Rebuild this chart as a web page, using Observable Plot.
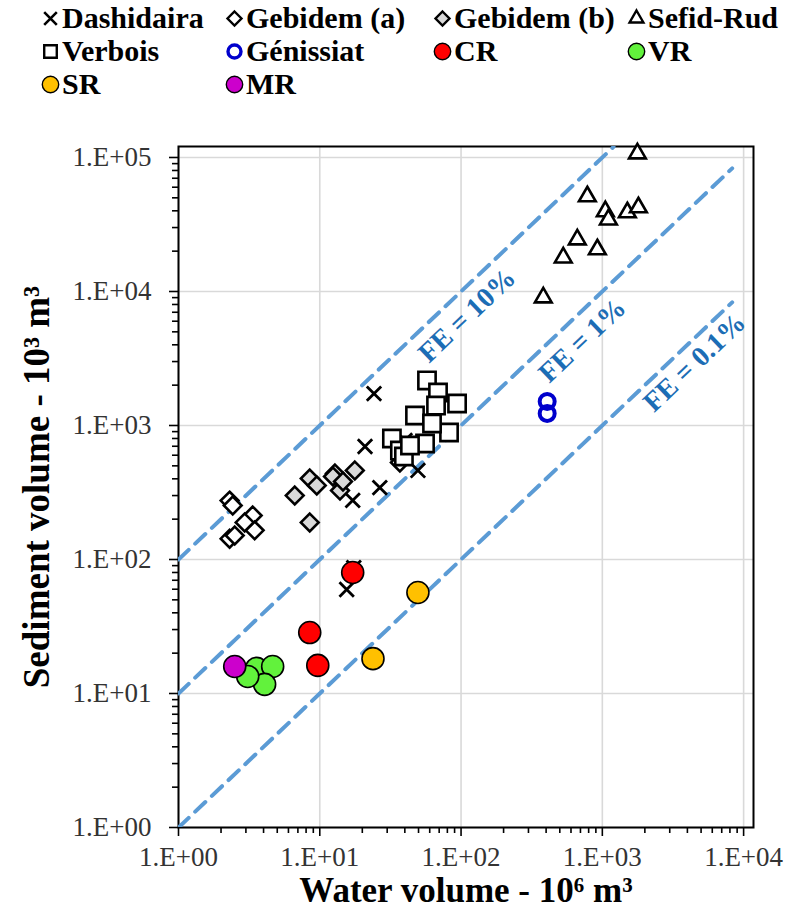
<!DOCTYPE html>
<html><head><meta charset="utf-8">
<script src="https://cdn.jsdelivr.net/npm/d3@7"></script>
<script src="https://cdn.jsdelivr.net/npm/@observablehq/plot@0.6"></script>
<style>
body{margin:0;background:#fff;width:786px;height:924px;overflow:hidden;font-family:"Liberation Serif","Times New Roman",serif;}
#legend{position:relative;height:140px;}
.item{position:absolute;display:flex;align-items:center;font-weight:bold;font-size:30px;line-height:1;color:#000;white-space:nowrap;transform:translateY(-50%);}
.item svg{margin-right:1px;}
</style></head><body>
<div id="legend"></div><div id="chart"></div>
<script>
// ---- data (water volume 10^6 m3, sediment volume 10^3 m3) ----
const seriesNames = ["Dashidaira","Gebidem (a)","Gebidem (b)","Sefid-Rud","Verbois","Génissiat","CR","VR","SR","MR"];
const dashidairaX = [24.2, 20.9, 26.6, 17.1, 49.5, 15.5, 40.1, 17.4];
const dashidairaY = [1730, 697, 344, 276, 462, 59.7, 773, 87];
const gebidemAX = [2.30, 2.42, 3.35, 3.46, 2.94, 2.30, 2.50, 36.9];
const gebidemAY = [275, 253, 213, 165, 189, 143, 151, 530];
const gebidemBX = [6.65, 8.49, 9.52, 8.49, 12.8, 12.4, 13.9, 14.6, 17.7];
const gebidemBY = [300, 402, 357, 189, 438, 416, 327, 382, 462];
const sefidRudX = [1771, 783, 1050, 1104, 1503, 1800, 665, 529, 922, 382];
const sefidRudY = [107000, 51200, 39600, 34400, 38900, 42400, 24400, 17900, 20600, 9020];
const verboisX = [57.4, 68.7, 93.7, 66.5, 47.2, 82.2, 62.3, 55.6, 32.4, 36.9, 39.4, 43.5];
const verboisY = [2168, 1763, 1459, 1409, 1188, 887, 1035, 734, 800, 650, 587, 709];
const genissiatX = [407, 407];
const genissiatY = [1511, 1230];
const crX = [17.1, 8.49, 9.68];
const crY = [80, 28.5, 16.2];
const vrX = [3.57, 4.64, 4.07, 3.09];
const vrY = [15.4, 15.9, 11.7, 13.4];
const srX = [23.8, 49.5];
const srY = [18.2, 56.7];
const mrX = [2.50];
const mrY = [15.9];

// flushing-efficiency guide lines: sediment = factor * water
const feLabels = ["FE = 10%", "FE = 1%", "FE = 0.1%"];
const feFactor = [100, 10, 1];
const feLineEndX = [1200, 8300, 8300];
const feLabelX = [110, 721, 4490];
const feLabelY = [6620, 4310, 2950];

const xTickLabels = ["1.E+00","1.E+01","1.E+02","1.E+03","1.E+04"];
const yTickLabels = ["1.E+00","1.E+01","1.E+02","1.E+03","1.E+04","1.E+05"];

// ---- build ----
const seriesX = [dashidairaX, gebidemAX, gebidemBX, sefidRudX, verboisX, genissiatX, crX, vrX, srX, mrX];
const seriesY = [dashidairaY, gebidemAY, gebidemBY, sefidRudY, verboisY, genissiatY, crY, vrY, srY, mrY];
const styles = [
  {symbol:"times", r:6.6, fill:"none", stroke:"#000", sw:2.8, lr:5.8, lsw:2.6},
  {symbol:"diamond2", r:8, fill:"#fff", stroke:"#000", sw:2.6, lr:6.3, lsw:2.4},
  {symbol:"diamond2", r:8, fill:"#d9d9d9", stroke:"#000", sw:2.6, lr:6.3, lsw:2.4},
  {symbol:"triangle2", r:8, fill:"#fff", stroke:"#000", sw:2.6, lr:6.6, lsw:2.4},
  {symbol:"square2", r:11, fill:"#fff", stroke:"#000", sw:2.6, lr:8, lsw:2.4},
  {symbol:"circle", r:7.5, fill:"none", stroke:"#0000cc", sw:4, lr:6.5, lsw:3.4},
  {symbol:"circle", r:11, fill:"#ff0000", stroke:"#000", sw:1.6, lr:8.2, lsw:1.4},
  {symbol:"circle", r:11, fill:"#62f23c", stroke:"#000", sw:1.6, lr:8.2, lsw:1.4},
  {symbol:"circle", r:11, fill:"#ffc000", stroke:"#000", sw:1.6, lr:8.2, lsw:1.4},
  {symbol:"circle", r:11, fill:"#cc00cc", stroke:"#000", sw:1.6, lr:8.2, lsw:1.4}
];
const symbolTypes = {times:d3.symbolTimes, diamond2:d3.symbolDiamond2, triangle2:d3.symbolTriangle2, square2:d3.symbolSquare2, circle:d3.symbolCircle};

// legend
const legendCols = [40, 224, 432, 626];
const legendRows = [18, 51, 84];
const legend = document.getElementById("legend");
seriesNames.forEach((name, i) => {
  const s = styles[i];
  const div = document.createElement("div");
  div.className = "item";
  div.style.left = legendCols[i % 4] + "px";
  div.style.top = legendRows[Math.floor(i / 4)] + "px";
  const path = d3.symbol(symbolTypes[s.symbol], Math.PI * s.lr * s.lr)();
  div.innerHTML = `<svg width="21" height="21" viewBox="-10.5 -10.5 21 21"><path d="${path}" fill="${s.fill}" stroke="${s.stroke}" stroke-width="${s.lsw}"/></svg><span>${name}</span>`;
  legend.appendChild(div);
});

const decX = [1, 10, 100, 1000, 10000];
const decY = [1, 10, 100, 1000, 10000, 100000];
const minorX = decX.slice(0, 4).flatMap(d => d3.range(2, 10).map(k => d * k));
const minorY = decY.slice(0, 5).flatMap(d => d3.range(2, 10).map(k => d * k));

const feLines = feLabels.flatMap((l, i) => [{label:l, x:1, y:feFactor[i]}, {label:l, x:feLineEndX[i], y:feFactor[i]*feLineEndX[i]}]);
const feText = feLabels.map((l, i) => ({label:l, x:feLabelX[i], y:feLabelY[i]}));

const dotMarks = seriesNames.map((name, i) => {
  const s = styles[i];
  const pts = seriesX[i].map((x, j) => ({x, y: seriesY[i][j]}));
  return Plot.dot(pts, {x:"x", y:"y", symbol:s.symbol, r:s.r, fill:s.fill, stroke:s.stroke, strokeWidth:s.sw});
});

const fmtX = d => xTickLabels[Math.round(Math.log10(d))];
const fmtY = d => yTickLabels[Math.round(Math.log10(d))];

const plot = Plot.plot({
  width: 786, height: 784,
  marginLeft: 178, marginRight: 33, marginTop: 6, marginBottom: 97,
  style: {fontFamily: "'Liberation Serif','Times New Roman',serif", background: "#fff", color: "#000"},
  x: {type: "log", domain: [1, Math.pow(10, 4.07)]},
  y: {type: "log", domain: [1, Math.pow(10, 5.082)]},
  marks: [
    Plot.gridX(decX, {stroke: "#d9d9d9", strokeOpacity: 1, strokeWidth: 1.6}),
    Plot.gridY(decY, {stroke: "#d9d9d9", strokeOpacity: 1, strokeWidth: 1.6}),
    Plot.axisX(minorX, {tickSize: 6, tickFormat: () => "", strokeWidth: 1.6, label: null}),
    Plot.axisX(decX, {tickSize: 9, tickPadding: 10, tickFormat: fmtX, fontSize: 27, fill: "#333", strokeWidth: 1.6, label: null}),
    Plot.axisY(minorY, {tickSize: 6, tickFormat: () => "", strokeWidth: 1.6, label: null}),
    Plot.axisY(decY, {tickSize: 9, tickPadding: 18, tickFormat: fmtY, fontSize: 27, fill: "#333", strokeWidth: 1.6, label: null}),
    Plot.frame({stroke: "#000", strokeWidth: 2}),
    Plot.line(feLines, {x:"x", y:"y", z:"label", stroke:"#5b9bd5", strokeWidth:4, strokeDasharray:"14,9", clip:true}),
    Plot.text(feText, {x:"x", y:"y", text:"label", rotate:-43.5, fill:"#1c6db5", fontSize:28, fontWeight:"bold"}),
    ...dotMarks,
    Plot.text(["Water volume - 10⁶ m³"], {frameAnchor:"bottom", dy:74, fontSize:35, fontWeight:"bold", fill:"#000"}),
    Plot.text(["Sediment volume - 10³ m³"], {frameAnchor:"left", textAnchor:"middle", dx:-141, rotate:-90, fontSize:37, fontWeight:"bold", fill:"#000"})
  ]
});
document.getElementById("chart").appendChild(plot);
</script>
</body></html>
